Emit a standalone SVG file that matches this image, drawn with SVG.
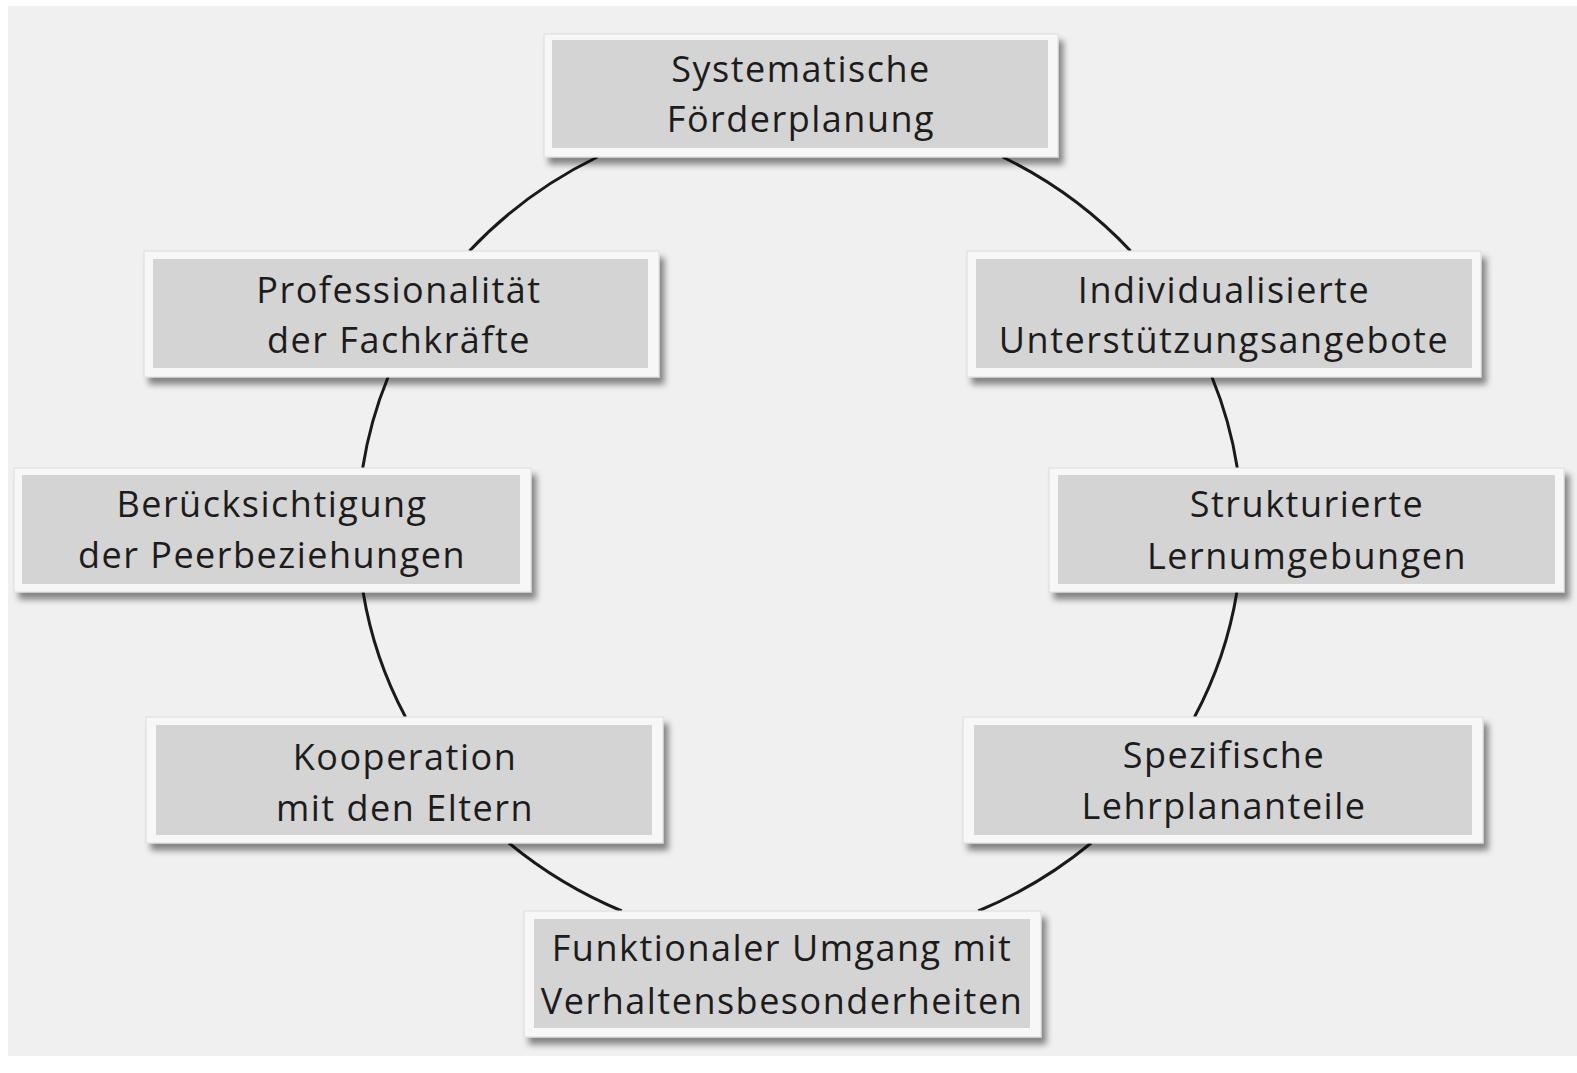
<svg xmlns="http://www.w3.org/2000/svg" width="1577" height="1073" viewBox="0 0 1577 1073">
<style>
.outer{fill:#f7f7f7;stroke:#dcdcdc;stroke-width:1}
.inner{fill:#d4d4d4}
.lbl{font-family:"Open Sans","Noto Sans",sans-serif;font-size:36px;letter-spacing:1.5px;fill:#1c1c1c;text-anchor:middle}
.arc{fill:none;stroke:#1a1a1a;stroke-width:3}
</style>
<defs>
<filter id="sh" x="-5%" y="-10%" width="112%" height="130%">
<feDropShadow dx="5" dy="7" stdDeviation="3" flood-color="#000" flood-opacity="0.45"/>
</filter>
</defs>
<rect x="0" y="0" width="1577" height="1073" fill="#ffffff"/>
<rect x="8" y="6" width="1569" height="1050" fill="#f0f0f0"/>
<g id="connectors">
<path class="arc" d="M469.4 251 A442 418 0 0 1 597.4 157"/>
<path class="arc" d="M1002.6 157 A442 418 0 0 1 1130.6 251"/>
<path class="arc" d="M1211.9 377 A442 418 0 0 1 1237.3 468"/>
<path class="arc" d="M1236.9 592 A442 418 0 0 1 1194.5 717"/>
<path class="arc" d="M1091.2 843 A442 418 0 0 1 978.2 911"/>
<path class="arc" d="M621.8 911 A442 418 0 0 1 508.8 843"/>
<path class="arc" d="M405.5 717 A442 418 0 0 1 363.1 592"/>
<path class="arc" d="M362.7 468 A442 418 0 0 1 388.1 377"/>
</g>
<g id="n1">
<rect class="outer" x="544" y="34" width="514" height="123" filter="url(#sh)"/>
<rect class="inner" x="552" y="40" width="496" height="108"/>
<text class="lbl" x="801" y="82">Systematische</text>
<text class="lbl" x="801" y="132">Förderplanung</text>
</g>
<g id="n2">
<rect class="outer" x="144" y="251" width="515" height="126" filter="url(#sh)"/>
<rect class="inner" x="153" y="259" width="495" height="109"/>
<text class="lbl" x="399" y="303">Professionalität</text>
<text class="lbl" x="399" y="353">der Fachkräfte</text>
</g>
<g id="n3">
<rect class="outer" x="967" y="251" width="514" height="126" filter="url(#sh)"/>
<rect class="inner" x="976" y="259" width="496" height="109"/>
<text class="lbl" x="1224" y="303">Individualisierte</text>
<text class="lbl" x="1224" y="353">Unterstützungsangebote</text>
</g>
<g id="n4">
<rect class="outer" x="14" y="468" width="517" height="124" filter="url(#sh)"/>
<rect class="inner" x="22" y="475" width="498" height="109"/>
<text class="lbl" x="272" y="517">Berücksichtigung</text>
<text class="lbl" x="272" y="568">der Peerbeziehungen</text>
</g>
<g id="n5">
<rect class="outer" x="1049" y="468" width="515" height="124" filter="url(#sh)"/>
<rect class="inner" x="1058" y="475" width="497" height="109"/>
<text class="lbl" x="1307" y="517">Strukturierte</text>
<text class="lbl" x="1307" y="569">Lernumgebungen</text>
</g>
<g id="n6">
<rect class="outer" x="146" y="717" width="517" height="126" filter="url(#sh)"/>
<rect class="inner" x="156" y="725" width="496" height="110"/>
<text class="lbl" x="405" y="770">Kooperation</text>
<text class="lbl" x="405" y="821">mit den Eltern</text>
</g>
<g id="n7">
<rect class="outer" x="963" y="717" width="520" height="126" filter="url(#sh)"/>
<rect class="inner" x="974" y="725" width="498" height="110"/>
<text class="lbl" x="1224" y="768">Spezifische</text>
<text class="lbl" x="1224" y="819">Lehrplananteile</text>
</g>
<g id="n8">
<rect class="outer" x="524" y="911" width="517" height="126" filter="url(#sh)"/>
<rect class="inner" x="534" y="919" width="496" height="109"/>
<text class="lbl" x="782" y="961">Funktionaler Umgang mit</text>
<text class="lbl" x="782" y="1014">Verhaltensbesonderheiten</text>
</g>
</svg>
